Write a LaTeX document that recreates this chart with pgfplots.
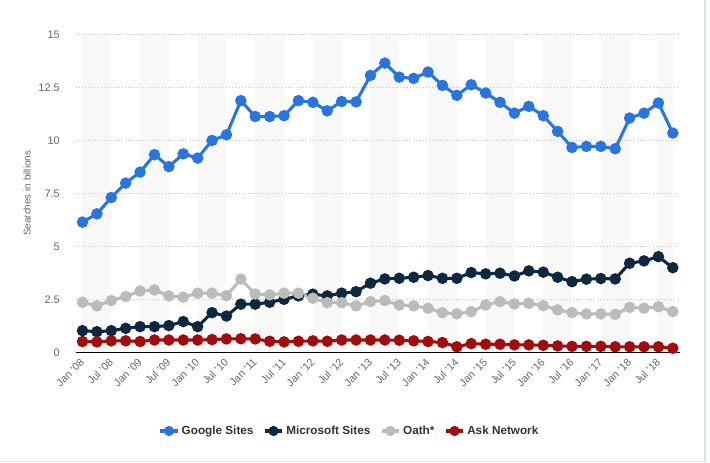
\documentclass[border=0pt]{standalone}
\usepackage{pgfplots}
\pgfplotsset{compat=1.18}
\usepackage{fontspec}
\setmainfont{Liberation Sans}
\definecolor{cgoogle}{RGB}{40,118,221}
\definecolor{cms}{RGB}{15,40,66}
\definecolor{coath}{RGB}{187,187,187}
\definecolor{cask}{RGB}{163,12,12}
\definecolor{band}{RGB}{248,248,248}
\definecolor{gridc}{RGB}{196,196,196}
\definecolor{labc}{RGB}{102,102,102}
\definecolor{framec}{RGB}{214,228,238}
\begin{document}
\begin{tikzpicture}
\begin{axis}[
  at={(0pt,0pt)}, anchor=south west,
  scale only axis, width=453pt, height=238.5pt,
  set layers,
  xmin=-0.45, xmax=41.5, ymin=0, ymax=15,
  clip=false,
  axis x line*=bottom, axis y line*=left,
  x axis line style={black, line width=1.1pt, -},
  y axis line style={draw=none},
  major tick length=0pt,
  ytick={0,2.5,5,7.5,10,12.5,15},
  yticklabels={0,2.5,5,7.5,10,12.5,15},
  ymajorgrids,
  grid style={gridc, line width=0.7pt, dash pattern=on 0.7pt off 1.6pt},
  xtick={0,2,...,40},
  xticklabels={Jan '08,Jul '08,Jan '09,Jul '09,Jan '10,Jul '10,Jan '11,Jul '11,Jan '12,Jul '12,Jan '13,Jul '13,Jan '14,Jul '14,Jan '15,Jul '15,Jan '16,Jul '16,Jan '17,Jan '18,Jul '18},
  xticklabel style={xshift=0pt, yshift=-6pt, rotate=45, anchor=east, inner sep=0pt, font=\fontsize{8}{9}\selectfont, text=labc},
  yticklabel style={anchor=east, inner sep=0pt, xshift=-12pt, font=\fontsize{8.2}{9}\selectfont, text=labc},
  ylabel={Searches in billions},
  ylabel style={at={(rel axis cs:-0.0811,0.5)}, anchor=center, font=\fontsize{7.4}{9}\selectfont, text=labc},
  legend style={at={(0.4536,-0.2475)}, anchor=center, legend columns=4, draw=none, fill=none,
    font=\bfseries\fontsize{8.8}{10}\selectfont, text=black!80, inner sep=0pt,
    /tikz/every even column/.append style={column sep=5.5pt}},
  legend cell align=left,
  legend image code/.code={\draw[mark repeat=2,mark phase=2,mark size=2.6pt,line width=2.3pt] plot coordinates {(0cm,0cm) (0.225cm,0cm) (0.45cm,0cm)};},
  every axis plot/.append style={line width=2.3pt, mark=*, mark size=3.1pt, mark options={solid}},
]
\begin{pgfonlayer}{axis background}
\pgfplotsinvokeforeach{0,4,...,36}{
  \fill[band] (axis cs:#1,0) rectangle (axis cs:#1+2,15);
}
\fill[band] (axis cs:40,0) rectangle (axis cs:41,15);
\end{pgfonlayer}
\addplot[cgoogle] coordinates {
(0,6.14) (1,6.53) (2,7.30) (3,7.98) (4,8.50) (5,9.32) (6,8.76) (7,9.36) (8,9.16) (9,9.99)
(10,10.26) (11,11.87) (12,11.12) (13,11.12) (14,11.16) (15,11.87) (16,11.79) (17,11.39) (18,11.83) (19,11.81)
(20,13.06) (21,13.64) (22,12.98) (23,12.92) (24,13.22) (25,12.59) (26,12.12) (27,12.62) (28,12.23) (29,11.79)
(30,11.28) (31,11.60) (32,11.16) (33,10.42) (34,9.66) (35,9.71) (36,9.71) (37,9.60) (38,11.05) (39,11.28)
(40,11.76) (41,10.34)};
\addlegendentry{Google Sites}
\addplot[cms] coordinates {
(0,1.02) (1,0.97) (2,1.02) (3,1.13) (4,1.21) (5,1.21) (6,1.26) (7,1.45) (8,1.21) (9,1.87)
(10,1.71) (11,2.27) (12,2.27) (13,2.36) (14,2.50) (15,2.66) (16,2.74) (17,2.66) (18,2.79) (19,2.86)
(20,3.26) (21,3.46) (22,3.49) (23,3.54) (24,3.62) (25,3.49) (26,3.49) (27,3.76) (28,3.70) (29,3.73)
(30,3.60) (31,3.84) (32,3.78) (33,3.54) (34,3.33) (35,3.45) (36,3.48) (37,3.46) (38,4.20) (39,4.31)
(40,4.51) (41,3.99)};
\addlegendentry{Microsoft Sites}
\addplot[coath] coordinates {
(0,2.36) (1,2.19) (2,2.44) (3,2.63) (4,2.89) (5,2.94) (6,2.66) (7,2.60) (8,2.79) (9,2.79)
(10,2.67) (11,3.45) (12,2.75) (13,2.71) (14,2.79) (15,2.79) (16,2.55) (17,2.34) (18,2.34) (19,2.19)
(20,2.39) (21,2.44) (22,2.23) (23,2.19) (24,2.08) (25,1.87) (26,1.81) (27,1.92) (28,2.23) (29,2.39)
(30,2.28) (31,2.31) (32,2.20) (33,2.00) (34,1.87) (35,1.81) (36,1.81) (37,1.79) (38,2.12) (39,2.08)
(40,2.15) (41,1.92)};
\addlegendentry{Oath*}
\addplot[cask] coordinates {
(0,0.51) (1,0.49) (2,0.54) (3,0.54) (4,0.51) (5,0.58) (6,0.58) (7,0.58) (8,0.58) (9,0.60)
(10,0.63) (11,0.64) (12,0.63) (13,0.52) (14,0.49) (15,0.52) (16,0.54) (17,0.52) (18,0.58) (19,0.58)
(20,0.58) (21,0.58) (22,0.57) (23,0.54) (24,0.51) (25,0.46) (26,0.26) (27,0.41) (28,0.38) (29,0.38)
(30,0.35) (31,0.35) (32,0.33) (33,0.30) (34,0.28) (35,0.28) (36,0.28) (37,0.26) (38,0.26) (39,0.26)
(40,0.26) (41,0.19)};
\addlegendentry{Ask Network}
\end{axis}
\begin{scope}[x=0.75pt,y=0.75pt,shift={(-57pt,-83.025pt)}]
\draw[framec, line width=1.1pt] (705,463) -- (705,1.5) -- (0,1.5);
\end{scope}
\pgfresetboundingbox
\path (-57pt,-83.025pt) rectangle (475.5pt,264.225pt);
\end{tikzpicture}
\end{document}
